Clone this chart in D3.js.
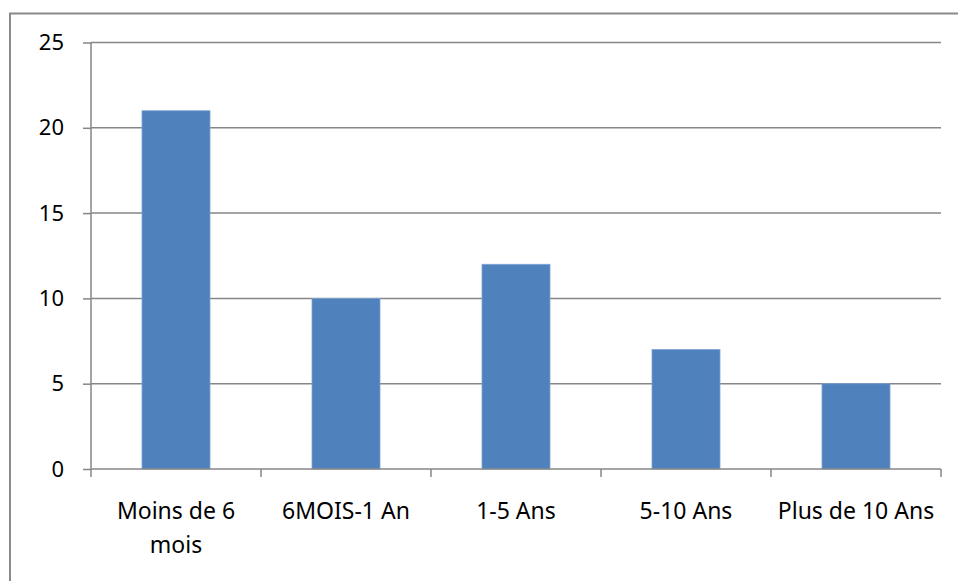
<!DOCTYPE html>
<html>
<head>
<meta charset="utf-8">
<script src="https://cdn.jsdelivr.net/npm/d3@7"></script>
<style>
  html, body { margin: 0; padding: 0; background: #fff; }
  svg { display: block; }
  text { font-family: "Noto Sans", "Open Sans", sans-serif; fill: #000; }
</style>
</head>
<body>
<svg id="chart" width="958" height="581"></svg>
<script>
// Durée — nombre de réponses par tranche
const categories = ["Moins de 6 mois", "6MOIS-1 An", "1-5 Ans", "5-10 Ans", "Plus de 10 Ans"];
const categoryLines = [["Moins de 6", "mois"], ["6MOIS-1 An"], ["1-5 Ans"], ["5-10 Ans"], ["Plus de 10 Ans"]];
const values = [21, 10, 12, 7, 5];
const yTicks = [0, 5, 10, 15, 20, 25];

const svg = d3.select("#chart");
const W = 958, H = 581;
const plot = { left: 91, right: 941, top: 42.5, bottom: 469 };

// Chart frame (extends beyond the right and bottom edges)
svg.append("rect")
  .attr("x", 10).attr("y", 13.5)
  .attr("width", W + 20).attr("height", H + 20)
  .attr("fill", "none").attr("stroke", "#8a8a8a").attr("stroke-width", 2);

const x = d3.scaleBand().domain(categories).range([plot.left, plot.right]).paddingInner(0).paddingOuter(0);
const y = d3.scaleLinear().domain([0, 25]).range([plot.bottom, plot.top]);

const grid = "#868686";

// Horizontal gridlines
svg.append("g").selectAll("line").data(yTicks.filter(d => d > 0)).join("line")
  .attr("x1", plot.left).attr("x2", plot.right)
  .attr("y1", d => y(d)).attr("y2", d => y(d))
  .attr("stroke", grid).attr("stroke-width", 1.5);

// Bars
const barW = x.bandwidth() * 0.4;
svg.append("g").selectAll("rect").data(values).join("rect")
  .attr("x", (d, i) => x(categories[i]) + (x.bandwidth() - barW) / 2)
  .attr("y", d => y(d))
  .attr("width", barW)
  .attr("height", d => y(0) - y(d))
  .attr("fill", "#4f81bd")
  .attr("stroke", "#7fa3d3").attr("stroke-width", 0.8);

// Y axis
const yAxis = d3.axisLeft(y).tickValues(yTicks).tickSize(8).tickPadding(19).tickFormat(d3.format("d"));
const gy = svg.append("g").attr("transform", `translate(${plot.left},0)`).call(yAxis);
gy.select(".domain").attr("stroke", grid).attr("stroke-width", 1.5).attr("d", `M0,${plot.top}V${plot.bottom}`);
gy.selectAll(".tick line").attr("stroke", grid).attr("stroke-width", 1.5);
gy.selectAll(".tick text").attr("font-size", 22).attr("font-family", "Noto Sans, sans-serif").attr("fill", "#000");

// X axis: tick marks at category boundaries
const boundaries = categories.map(c => x(c)).concat([plot.right]);
svg.append("line")
  .attr("x1", plot.left).attr("x2", plot.right)
  .attr("y1", plot.bottom).attr("y2", plot.bottom)
  .attr("stroke", grid).attr("stroke-width", 1.5);
svg.append("g").selectAll("line").data(boundaries).join("line")
  .attr("x1", d => d).attr("x2", d => d)
  .attr("y1", plot.bottom).attr("y2", plot.bottom + 8)
  .attr("stroke", grid).attr("stroke-width", 1.5);

// Category labels
const labels = svg.append("g").selectAll("text").data(categories).join("text")
  .attr("text-anchor", "middle")
  .attr("font-size", 23)
  .attr("x", c => x(c) + x.bandwidth() / 2)
  .attr("y", 519);
labels.each(function(c, i) {
  const t = d3.select(this);
  categoryLines[i].forEach((line, k) => {
    t.append("tspan")
      .attr("x", x(c) + x.bandwidth() / 2)
      .attr("dy", k === 0 ? 0 : 34)
      .text(line);
  });
});
</script>
</body>
</html>
